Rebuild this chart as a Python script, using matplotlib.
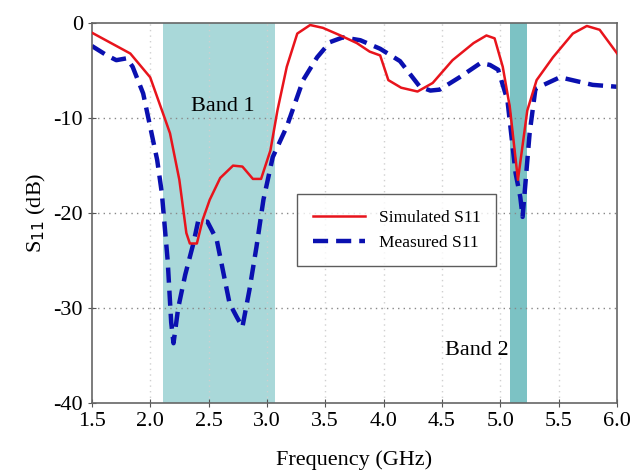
import numpy as np
import matplotlib.pyplot as plt

# S11 curves (GHz, dB)
sim_f = [1.50, 1.65, 1.83, 2.00, 2.11, 2.17, 2.25, 2.31, 2.34, 2.40, 2.45, 2.51, 2.60,
         2.71, 2.79, 2.88, 2.95, 3.03, 3.09, 3.17, 3.26, 3.37, 3.48, 3.63, 3.77, 3.88,
         3.97, 4.04, 4.15, 4.29, 4.42, 4.59, 4.77, 4.88, 4.95, 5.02, 5.08, 5.15, 5.23,
         5.31, 5.45, 5.62, 5.74, 5.85, 6.00]
sim_db = [-1.0, -2.0, -3.2, -5.7, -9.5, -11.6, -16.5, -22.1, -23.2, -23.2, -20.7, -18.6, -16.3,
          -15.0, -15.1, -16.4, -16.4, -13.4, -9.2, -4.6, -1.1, -0.2, -0.5, -1.3, -2.1, -3.0,
          -3.4, -6.0, -6.8, -7.2, -6.3, -3.9, -2.1, -1.3, -1.6, -4.6, -8.8, -16.5, -9.2,
          -6.0, -3.6, -1.1, -0.3, -0.7, -3.2]

meas_f = [1.50, 1.63, 1.71, 1.80, 1.85, 1.94, 2.00, 2.06, 2.10, 2.15, 2.18, 2.20, 2.24,
          2.30, 2.37, 2.41, 2.49, 2.57, 2.68, 2.74, 2.79, 2.85, 2.91, 2.97, 3.05, 3.17,
          3.31, 3.43, 3.54, 3.65, 3.80, 3.97, 4.14, 4.31, 4.40, 4.48, 4.65, 4.83, 4.91,
          4.98, 5.06, 5.13, 5.17, 5.19, 5.25, 5.30, 5.51, 5.79, 6.00]
meas_db = [-2.4, -3.4, -3.9, -3.7, -4.6, -7.4, -10.9, -14.4, -17.9, -25.0, -31.5, -33.7, -30.0,
           -26.5, -23.2, -20.9, -20.9, -22.8, -29.5, -30.9, -32.0, -28.1, -23.6, -18.6, -14.1, -10.9,
           -6.0, -3.6, -2.0, -1.5, -1.8, -2.7, -4.0, -6.7, -7.1, -7.0, -5.7, -4.2, -4.4,
           -4.9, -8.1, -15.8, -18.3, -20.4, -11.6, -6.9, -5.7, -6.5, -6.7]

bands = [(2.11, 3.07), (5.08, 5.23)]
band_colors = ['#a9d8d9', '#7cc2c4']

plt.rcParams['font.family'] = ['Liberation Serif', 'DejaVu Serif']
plt.rcParams['axes.unicode_minus'] = False

fig = plt.figure(figsize=(6.33, 4.72), dpi=100)
ax = fig.add_axes([0.145, 0.146, 0.830, 0.805])

for (lo, hi), c in zip(bands, band_colors):
    ax.axvspan(lo, hi, color=c, lw=0, zorder=0)

ax.plot(sim_f, sim_db, color='#e8141c', lw=1.8, label='Simulated S11', zorder=3)
ax.plot(meas_f, meas_db, color='#0a10b0', lw=3.2, ls=(0, (3.4, 1.8)), label='Measured S11', zorder=2)

ax.set_xlim(1.5, 6.0)
ax.set_ylim(-40, 0)
ax.set_xticks(np.arange(1.5, 6.01, 0.5))
ax.set_xticklabels([f'{v:.1f}' for v in np.arange(1.5, 6.01, 0.5)])
ax.set_yticks([0, -10, -20, -30, -40])
ax.tick_params(labelsize=16, direction='inout', length=6, color='#555555')

# dotted grid: horizontal stronger, vertical faint
for y in [-10, -20, -30]:
    ax.axhline(y, color='#888888', ls=(0, (1, 3)), lw=1, zorder=1)
for x in np.arange(2.0, 6.0, 0.5):
    ax.axvline(x, color='#d0d0d0', ls=(0, (1, 3)), lw=1, zorder=1)

for s in ax.spines.values():
    s.set_color('#666666')
    s.set_linewidth(1.2)

ax.set_xlabel('Frequency (GHz)', fontsize=16, labelpad=14)
ax.set_ylabel('S$_{11}$ (dB)', fontsize=16)

ax.text(2.62, -8.8, 'Band 1', fontsize=16, ha='center', va='center')
ax.text(4.80, -34.5, 'Band 2', fontsize=16, ha='center', va='center')

leg = ax.legend(loc='center left', bbox_to_anchor=(0.375, 0.455), fontsize=12.5,
                frameon=True, fancybox=False, edgecolor='#333333', handlelength=3.0,
                borderpad=0.9, labelspacing=0.5)
leg.get_frame().set_linewidth(1.0)

fig.savefig('out.png', dpi=100)
